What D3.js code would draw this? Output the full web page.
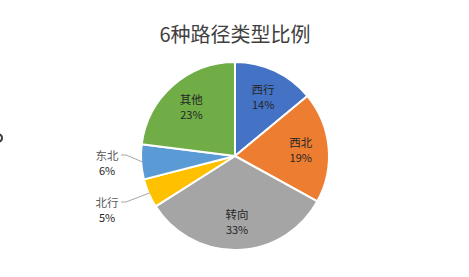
<!DOCTYPE html>
<html>
<head>
<meta charset="utf-8">
<script src="https://cdn.jsdelivr.net/npm/d3@7"></script>
<style>
  html, body { margin: 0; padding: 0; background: #fff; }
  svg { display: block; font-family: "Noto Sans CJK SC", "Noto Sans", sans-serif; }
</style>
</head>
<body>
<svg id="chart" width="469" height="277"></svg>
<script>
// Route types and their share (%)
const categories = ["西行", "西北", "转向", "北行", "东北", "其他"];
const shares = [14, 19, 33, 5, 6, 23];
const colors = ["#4472C4", "#ED7D31", "#A5A5A5", "#FFC000", "#5B9BD5", "#70AD47"];
const title = "6种路径类型比例";

const W = 469, H = 277;
const cx = 235, cy = 156, R = 94;

const svg = d3.select("#chart");

// sliver of a neighbouring object showing at the left edge
svg.append("path")
  .attr("d", d3.arc().innerRadius(3).outerRadius(5).startAngle(0.3).endAngle(Math.PI - 0.3)())
  .attr("transform", "translate(-2,138)")
  .attr("fill", "#404040");

svg.append("text")
  .attr("x", cx).attr("y", 33)
  .attr("text-anchor", "middle")
  .attr("dominant-baseline", "central")
  .attr("font-size", 20)
  .attr("fill", "#404040")
  .text(title);

const data = categories.map((c, i) => ({ name: c, value: shares[i], color: colors[i] }));
const pie = d3.pie().value(d => d.value).sort(null);
const arcs = pie(data);

const arc = d3.arc().innerRadius(0).outerRadius(R);
const labelArc = d3.arc().innerRadius(66).outerRadius(66);

const g = svg.append("g").attr("transform", `translate(${cx},${cy})`);

g.selectAll("path.slice")
  .data(arcs)
  .join("path")
  .attr("class", "slice")
  .attr("d", arc)
  .attr("fill", d => d.data.color)
  .attr("stroke", "#fff")
  .attr("stroke-width", 2)
  .attr("stroke-linejoin", "round");

// small slices get their labels outside, stacked on the left with leader lines
const outside = new Set(["北行", "东北"]);
const outsideY = { "东北": -1, "北行": 46 };
const labelRightX = -R - 22;

arcs.forEach(a => {
  const name = a.data.name;
  const pct = a.data.value + "%";
  if (!outside.has(name)) {
    const [x, y] = labelArc.centroid(a);
    const t = g.append("g").attr("transform", `translate(${x},${y})`);
    t.append("text").attr("y", -7.5).attr("text-anchor", "middle")
      .attr("dominant-baseline", "central").attr("font-size", 11.5)
      .attr("fill", "#262626").text(name);
    t.append("text").attr("y", 7.5).attr("text-anchor", "middle")
      .attr("dominant-baseline", "central").attr("font-size", 11)
      .attr("fill", "#262626").text(pct);
  } else {
    const y0 = outsideY[name];
    const lx = labelRightX - 12;
    g.append("text").attr("x", lx).attr("y", y0).attr("text-anchor", "middle")
      .attr("dominant-baseline", "central").attr("font-size", 11.5)
      .attr("fill", "#595959").text(name);
    g.append("text").attr("x", lx).attr("y", y0 + 15).attr("text-anchor", "middle")
      .attr("dominant-baseline", "central").attr("font-size", 11)
      .attr("fill", "#262626").text(pct);
    const mid = (a.startAngle + a.endAngle) / 2;
    const ex = Math.sin(mid) * (R - 1), ey = -Math.cos(mid) * (R - 1);
    g.append("polyline")
      .attr("points", [[labelRightX + 2, y0], [labelRightX + 7, y0], [ex, ey]].map(p => p.join(",")).join(" "))
      .attr("fill", "none").attr("stroke", "#a6a6a6").attr("stroke-width", 1);
  }
});
</script>
</body>
</html>
